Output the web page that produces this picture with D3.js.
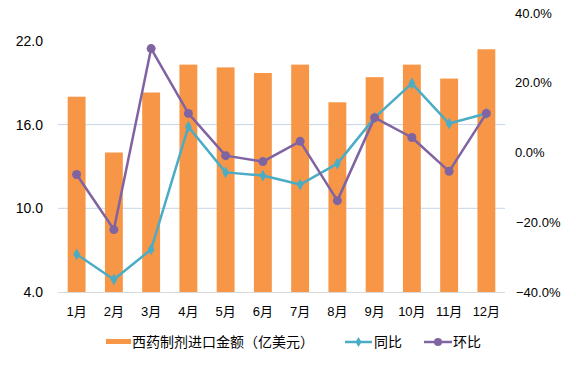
<!DOCTYPE html>
<html>
<head>
<meta charset="utf-8">
<script src="https://cdn.jsdelivr.net/npm/d3@7"></script>
<style>
  body { margin: 0; background: #fff; }
  text { font-family: "Liberation Sans", Arial, "Noto Sans CJK SC", sans-serif; fill: #000; }
</style>
</head>
<body>
<svg id="chart" width="576" height="371"></svg>
<script>
// months on the x axis
const months = ["1月", "2月", "3月", "4月", "5月", "6月", "7月", "8月", "9月", "10月", "11月", "12月"];
// import value of western drug preparations, 亿美元
const amount = [18.0, 14.0, 18.3, 20.3, 20.1, 19.7, 20.3, 17.6, 19.4, 20.3, 19.3, 21.4];
// year over year, %
const yoy = [-29.2, -36.4, -27.8, 7.4, -5.7, -6.6, -9.2, -3.2, 10.0, 19.8, 8.3, 11.2];
// month over month, %
const mom = [-6.3, -22.1, 29.8, 11.2, -0.9, -2.6, 3.2, -13.8, 10.0, 4.3, -5.4, 11.2];
const leftTicks = [4, 10, 16, 22];
const rightTicks = [-40, -20, 0, 20, 40];
const seriesNames = ["西药制剂进口金额（亿美元）", "同比", "环比"];

const svg = d3.select("#chart");
const plot = { left: 58, right: 505, top: 13, bottom: 292 };

const x = d3.scaleBand().domain(months).range([plot.left, plot.right]).paddingInner(0.52).paddingOuter(0.26);
const yL = d3.scaleLinear().domain([4, 24]).range([plot.bottom, plot.top]);
const yR = d3.scaleLinear().domain([-40, 40]).range([plot.bottom, plot.top]);
const cx = m => x(m) + x.bandwidth() / 2;

// gridlines (only the inner ones show in the original)
svg.append("g").selectAll("line").data([10, 16]).join("line")
  .attr("x1", plot.left).attr("x2", plot.right)
  .attr("y1", d => yL(d)).attr("y2", d => yL(d))
  .attr("stroke", "#c5d5e8").attr("stroke-width", 1);

// bars
svg.append("g").selectAll("rect").data(amount).join("rect")
  .attr("x", (d, i) => x(months[i]))
  .attr("y", d => yL(d))
  .attr("width", x.bandwidth())
  .attr("height", d => yL(4) - yL(d))
  .attr("fill", "#f79646");

// baseline
svg.append("line")
  .attr("x1", plot.left).attr("x2", plot.right)
  .attr("y1", plot.bottom + 0.5).attr("y2", plot.bottom + 0.5)
  .attr("stroke", "#d9d9d9").attr("stroke-width", 1);

// left axis labels
svg.append("g").selectAll("text").data(leftTicks).join("text")
  .attr("x", 43).attr("y", d => yL(d)).attr("dy", "0.36em")
  .attr("text-anchor", "end").attr("font-size", 14)
  .text(d => d3.format(".1f")(d));

// right axis labels
svg.append("g").selectAll("text").data(rightTicks).join("text")
  .attr("x", d => d < 0 ? 516 : 515).attr("y", d => yR(d)).attr("dy", "0.36em")
  .attr("text-anchor", "start").attr("font-size", 13)
  .text(d => d3.format(".1f")(d) + "%");

// x labels
svg.append("g").selectAll("text").data(months).join("text")
  .attr("x", d => cx(d)).attr("y", 311).attr("dy", "0.36em")
  .attr("text-anchor", "middle").attr("font-size", 13)
  .text(d => d);

const line = d3.line().x((d, i) => cx(months[i])).y(d => yR(d));

// 同比 line with diamonds
svg.append("path").datum(yoy).attr("d", line)
  .attr("fill", "none").attr("stroke", "#4bacc6").attr("stroke-width", 2.5).attr("stroke-linejoin", "round");
svg.append("g").selectAll("path").data(yoy).join("path")
  .attr("d", d3.symbol(d3.symbolDiamond, 40))
  .attr("transform", (d, i) => `translate(${cx(months[i])},${yR(d)}) rotate(0)`)
  .attr("fill", "#4bacc6");

// 环比 line with circles
svg.append("path").datum(mom).attr("d", line)
  .attr("fill", "none").attr("stroke", "#8064a2").attr("stroke-width", 2.5).attr("stroke-linejoin", "round");
svg.append("g").selectAll("circle").data(mom).join("circle")
  .attr("cx", (d, i) => cx(months[i])).attr("cy", d => yR(d)).attr("r", 4.5)
  .attr("fill", "#8064a2");

// legend
const lg = svg.append("g");
lg.append("rect").attr("x", 106).attr("y", 339).attr("width", 25).attr("height", 5).attr("fill", "#f79646");
lg.append("text").attr("x", 132).attr("y", 342).attr("dy", "0.36em").attr("font-size", 14).text(seriesNames[0]);

lg.append("line").attr("x1", 345).attr("x2", 372).attr("y1", 342).attr("y2", 342)
  .attr("stroke", "#4bacc6").attr("stroke-width", 2.5);
lg.append("path").attr("d", d3.symbol(d3.symbolDiamond, 30)).attr("transform", "translate(358.5,342)").attr("fill", "#4bacc6");
lg.append("text").attr("x", 374).attr("y", 342).attr("dy", "0.36em").attr("font-size", 14).text(seriesNames[1]);

lg.append("line").attr("x1", 424).attr("x2", 452).attr("y1", 342).attr("y2", 342)
  .attr("stroke", "#8064a2").attr("stroke-width", 2.5);
lg.append("circle").attr("cx", 438).attr("cy", 342).attr("r", 4).attr("fill", "#8064a2");
lg.append("text").attr("x", 453).attr("y", 342).attr("dy", "0.36em").attr("font-size", 14).text(seriesNames[2]);
</script>
</body>
</html>
